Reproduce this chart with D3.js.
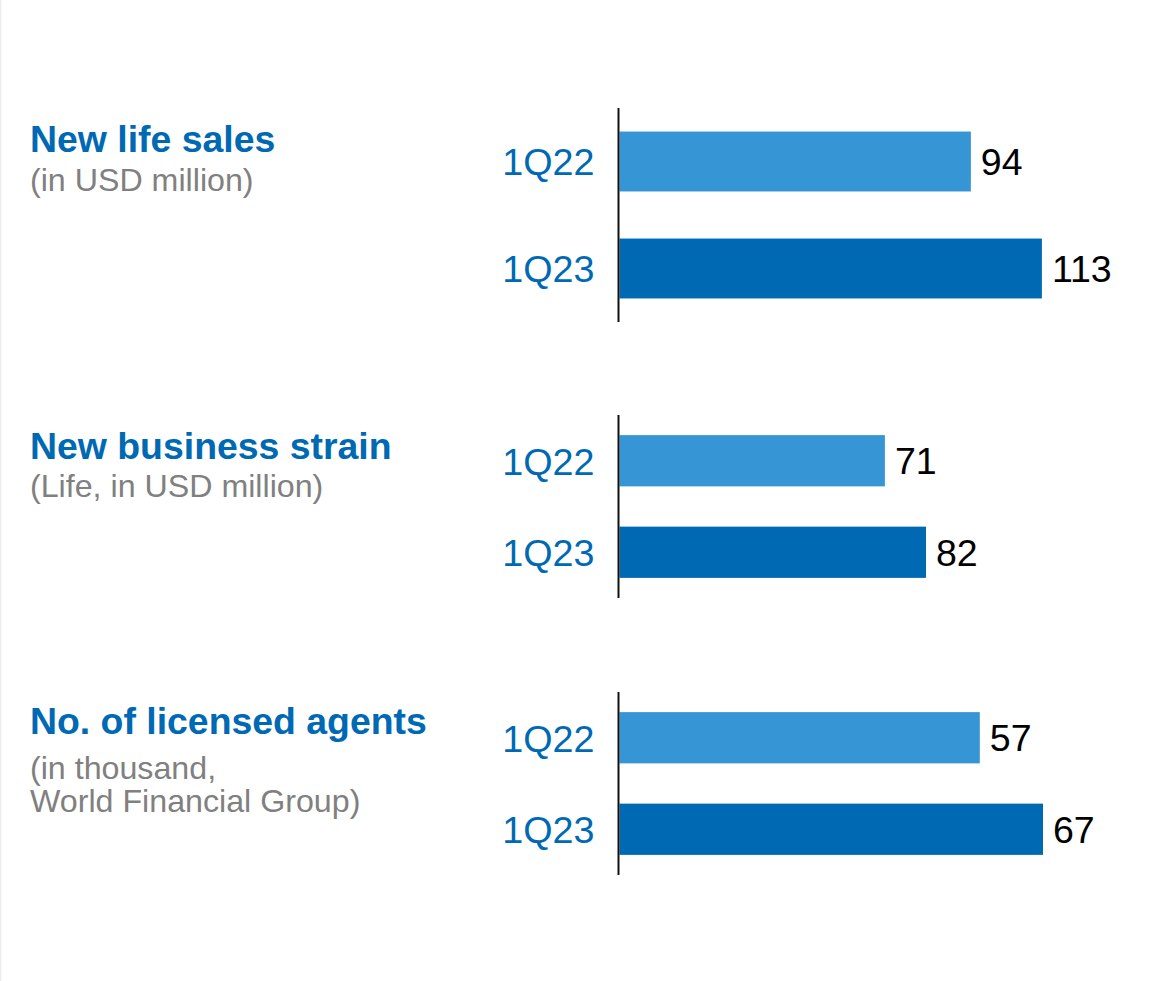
<!DOCTYPE html>
<html>
<head>
<meta charset="utf-8">
<script src="https://cdn.jsdelivr.net/npm/d3@7"></script>
<style>
    body { margin: 0; background: #fff; }
    svg { display: block; font-family: "Liberation Sans", Arial, sans-serif; }
</style>
</head>
<body>
<div id="chart"></div>
<script>
// values
const periods = ["1Q22", "1Q23"];
const newLifeSales = [94, 113];
const newBusinessStrain = [71, 82];
const licensedAgents = [57, 67];

const titles = ["New life sales", "New business strain", "No. of licensed agents"];
const subtitles = [
    ["(in USD million)"],
    ["(Life, in USD million)"],
    ["(in thousand,", "World Financial Group)"]
];

const width = 1171;
const height = 981;
const blue = "#0069b4";
const lightBlue = "#3595d5";
const grey = "#808080";

var svg = d3.select("#chart")
    .append("svg")
    .attr("width", width)
    .attr("height", height);

// thin frame line at the left edge
svg.append("line")
    .attr("x1", 0.5).attr("x2", 0.5)
    .attr("y1", 0).attr("y2", height)
    .style("stroke", "#ececec")
    .style("stroke-width", 1.5);

var axisX = 618.5;

// two panels in USD million share one scale, agents get their own
var usdScale = d3.scaleLinear().domain([0, 113.3]).range([619.5, 1043]);
var agentScale = d3.scaleLinear().domain([0, 67]).range([619.5, 1043]);

var panels = [
    {values: newLifeSales, x: usdScale, top: 108, bottom: 322, titleY: 152, subY: [191]},
    {values: newBusinessStrain, x: usdScale, top: 415, bottom: 598, titleY: 459, subY: [497]},
    {values: licensedAgents, x: agentScale, top: 692, bottom: 875, titleY: 734, subY: [779, 812]}
];

panels.forEach(function (p, i) {
    var g = svg.append("g").attr("class", "panel");

    g.append("text")
        .attr("x", 30)
        .attr("y", p.titleY)
        .style("font-size", "37.4px")
        .style("font-weight", "bold")
        .style("fill", blue)
        .text(titles[i]);

    subtitles[i].forEach(function (line, j) {
        g.append("text")
            .attr("x", 30)
            .attr("y", p.subY[j])
            .style("font-size", "32.2px")
            .style("fill", grey)
            .text(line);
    });

    var y = d3.scaleBand()
        .domain(periods)
        .range([p.top, p.bottom])
        .paddingInner(0.44)
        .paddingOuter(0.22);

    var rows = periods.map(function (d, k) {
        return {period: d, value: p.values[k]};
    });

    g.selectAll(".bar")
        .data(rows)
        .enter().append("rect")
        .attr("class", "bar")
        .attr("x", p.x(0))
        .attr("y", function (d) { return y(d.period); })
        .attr("width", function (d) { return p.x(d.value) - p.x(0); })
        .attr("height", y.bandwidth())
        .style("fill", function (d, k) { return k == 0 ? lightBlue : blue; });

    g.selectAll(".cat")
        .data(rows)
        .enter().append("text")
        .attr("class", "cat")
        .attr("x", 594.5)
        .attr("y", function (d) { return y(d.period) + y.bandwidth() / 2; })
        .attr("dy", "0.37em")
        .attr("text-anchor", "end")
        .style("font-size", "37.7px")
        .style("fill", blue)
        .text(function (d) { return d.period; });

    g.selectAll(".val")
        .data(rows)
        .enter().append("text")
        .attr("class", "val")
        .attr("x", function (d) { return p.x(d.value) + 10; })
        .attr("y", function (d) { return y(d.period) + y.bandwidth() / 2; })
        .attr("dy", "0.36em")
        .style("font-size", "37.5px")
        .style("fill", "#000")
        .text(function (d) { return d.value; });

    g.append("line")
        .attr("x1", axisX).attr("x2", axisX)
        .attr("y1", p.top).attr("y2", p.bottom)
        .style("stroke", "#111")
        .style("stroke-width", 2);
});
</script>
</body>
</html>
